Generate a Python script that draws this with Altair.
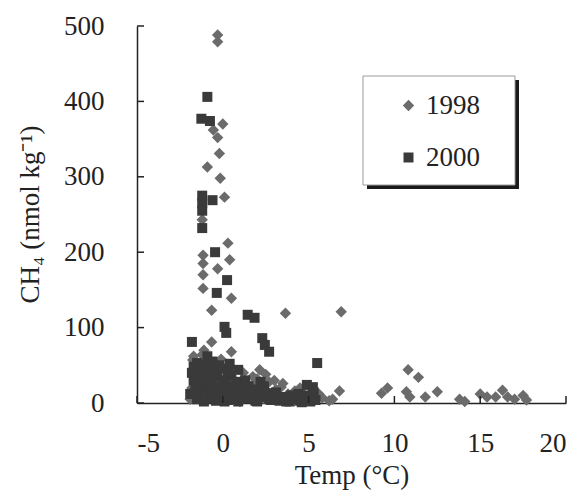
import altair as alt
import pandas as pd

# ---- data ----
temp_1998 = [-0.3, -0.3, 0.0, -0.55, -0.3, -0.2, -0.9, -0.15, 0.1, 0.3, 0.4,
             -1.15, -1.15, -1.15, -1.15, -0.3, -1.2, 0.5, -0.65, 3.65, 6.9,
             -0.65, 0.5, -1.75, -1.2, 0.6, 2.15, 1.75, 2.5, 3.5, 3.4, 4.5, 6.8, 5.8, 6.2,
             9.25, 9.6, 10.8, 11.4, 10.7, 10.9, 11.8, 12.5, 13.8, 14.1, 15.0, 15.4, 15.9,
             16.3, 16.6, 17.0, 17.5, 17.7,
             -1.8, -1.6, -1.4, -1.2, -1.0, -0.9, -0.7, -0.5, -0.3, -0.1, 0.1, 0.3, 0.4,
             0.8, 1.2, 1.4, 1.8, 2.2, 2.7, 3.1, 3.8, 4.2, 4.9, 5.4, 2.9, 3.6, 1.0, 2.4,
             -1.9, -1.7, -1.3, -1.1, -0.8, -0.6, -0.4, 0.0, 0.2, 0.6, 1.1, 1.6, 2.0,
             2.6, 3.3, 4.0, 4.7, 5.2, 5.6, 6.4, 3.0]
ch4_1998 = [488, 479, 370, 362, 352, 331, 313, 298, 273, 212, 190,
            196, 185, 170, 152, 178, 243, 139, 123, 119, 121,
            81, 68, 57, 64, 44, 44, 35, 38, 26, 21, 20, 16, 7, 3,
            13, 20, 44, 34, 15, 8, 8, 15, 5, 2, 12, 8, 8,
            17, 8, 5, 10, 4,
            20, 45, 8, 28, 50, 12, 35, 4, 25, 58, 15, 6, 32,
            18, 40, 9, 26, 20, 28, 18, 12, 16, 5, 8, 5, 3, 2, 6,
            5, 62, 15, 70, 24, 48, 10, 20, 42, 30, 24, 15, 32,
            15, 10, 6, 12, 3, 12, 5, 30]

temp_2000 = [-0.9, -1.25, -0.75, -1.2, -1.2, -1.2, -1.2, -0.6, -0.45, 0.25, -0.35,
             1.45, 1.85, 0.1, 0.2, -1.8, 2.3, 2.45, 2.7, 5.5, -1.5, -0.6, 4.9, 5.25,
             -1.7, -1.6, -1.5, -1.4, -1.3, -1.2, -1.1, -1.0, -0.9, -0.8, -0.7, -0.6,
             -0.5, -0.4, -0.3, -0.2, -0.1, 0.0, 0.1, 0.2, 0.3, 0.5, 0.6, 0.7, 0.9,
             1.0, 1.1, 1.3, 1.5, 1.7, 1.9, 2.1, 2.3, 2.6, 2.8, 3.0, 3.3, 3.6, 3.9,
             4.2, 4.5, 4.8, 5.1, 5.3, 0.4, -1.3,
             -1.9, -1.8, -1.6, -1.5, -1.2, -1.1, -1.0, -0.8, -0.8, -0.6, -0.5, -0.4,
             -0.2, -0.2, 0.0, 0.1, 0.3, 0.4, 0.6, 0.8, 0.9, 1.2, 1.3, 1.6, 1.8, 2.0,
             2.4, 2.7, 3.1, 3.4, 3.7, 4.0, 4.4, 4.6, 5.0, 5.4, 2.2, -1.7, -0.9]
ch4_2000 = [406, 377, 374, 275, 265, 255, 232, 269, 200, 163, 146,
            117, 113, 101, 93, 81, 86, 77, 68, 53, 53, 55, 24, 21,
            30, 15, 5, 40, 22, 10, 2, 32, 18, 6, 44, 26,
            12, 3, 36, 20, 8, 46, 28, 14, 4, 36, 22, 10, 2,
            28, 16, 6, 22, 12, 3, 16, 8, 13, 4, 10, 3, 8, 2,
            6, 3, 10, 2, 14, 52, 50,
            12, 40, 28, 18, 45, 35, 12, 30, 52, 8, 40, 18,
            50, 5, 30, 2, 40, 18, 6, 28, 44, 12, 30, 6, 18, 2,
            22, 6, 14, 7, 2, 10, 12, 1, 6, 4, 28, 48, 62]

years = ["1998", "2000"]
x_ticks = [-5, 0, 5, 10, 15, 20]
y_ticks = [0, 100, 200, 300, 400, 500]

FONT = "Liberation Serif"
INK = "#222222"
W, H = 429, 377

df = pd.DataFrame({
    "temp": temp_1998 + temp_2000,
    "ch4": ch4_1998 + ch4_2000,
    "year": ["1998"] * len(temp_1998) + ["2000"] * len(temp_2000),
})

xscale = alt.Scale(domain=[-5, 20], nice=False, zero=False)
yscale = alt.Scale(domain=[0, 500], nice=False)

legend = alt.Legend(
    title=None, orient="none", legendX=258, legendY=66,
    labelFont=FONT, labelFontSize=27, labelColor=INK,
    symbolSize=64, rowPadding=24, labelOffset=4, padding=0,
    symbolStrokeWidth=0,
)

points = alt.Chart(df).mark_point(filled=True, opacity=1).encode(
    x=alt.X("temp:Q", scale=xscale,
            axis=alt.Axis(values=x_ticks, title="Temp (°C)", ticks=False, tickSize=0,
                          labelPadding=27, grid=False, labelFont=FONT,
                          labelExpr="'' + datum.value",
                          titleBaseline="alphabetic", titleY=80)),
    y=alt.Y("ch4:Q", scale=yscale,
            axis=alt.Axis(values=y_ticks, title="CH₄ (nmol kg⁻¹)", ticks=False, tickSize=0,
                          labelPadding=33, grid=False, labelFont=FONT,
                          labelExpr="'' + datum.value",
                          titleBaseline="alphabetic", titleX=-99, titleY=188,
                          titleAngle=270)),
    shape=alt.Shape("year:N", scale=alt.Scale(domain=years, range=["diamond", "square"]),
                    legend=legend),
    color=alt.Color("year:N", scale=alt.Scale(domain=years, range=["#6b6b6b", "#3a3a3a"]),
                    legend=legend),
    size=alt.Size("year:N", scale=alt.Scale(domain=years, range=[130, 100]), legend=None),
)

ytick_df = pd.DataFrame({"ch4": y_ticks})
xtick_df = pd.DataFrame({"temp": x_ticks})

yticks = alt.Chart(ytick_df).mark_rule(color=INK, strokeWidth=1.5).encode(
    y=alt.Y("ch4:Q", scale=yscale), x=alt.value(0), x2=alt.value(7))
xticks = alt.Chart(xtick_df).mark_rule(color=INK, strokeWidth=1.5).encode(
    x=alt.X("temp:Q", scale=xscale), y=alt.value(H), y2=alt.value(H - 7))

box_df = pd.DataFrame({"k": [0]})
shadow = alt.Chart(box_df).mark_rect(color="#1a1a1a").encode(
    x=alt.value(230), x2=alt.value(382), y=alt.value(54), y2=alt.value(163))
box = alt.Chart(box_df).mark_rect(fill="white", stroke="#9a9a9a", strokeWidth=1).encode(
    x=alt.value(226), x2=alt.value(378), y=alt.value(50), y2=alt.value(159))

chart = alt.layer(points, yticks, xticks, shadow, box).properties(
    width=W, height=H,
    autosize=alt.AutoSizeParams(type="none"),
    padding={"left": 129, "top": 18, "right": 5, "bottom": 88},
).configure(font=FONT).configure_view(stroke=None).configure_axis(
    domainColor=INK, domainWidth=1.5,
    labelFont=FONT, labelFontSize=27, labelColor=INK,
    titleFont=FONT, titleFontSize=27, titleColor=INK, titleFontWeight="normal",
).configure_legend(labelFont=FONT)

chart.save("out.html", embed_options={"renderer": "svg", "actions": False})
